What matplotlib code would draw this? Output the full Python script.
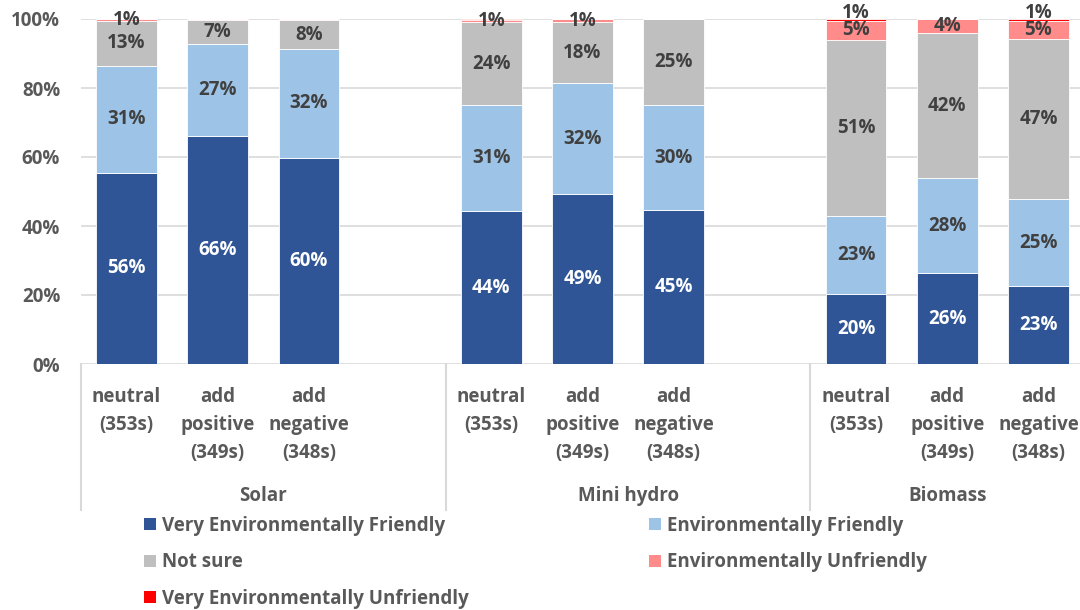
import matplotlib
matplotlib.use("Agg")
import matplotlib.pyplot as plt
import matplotlib.transforms as mtransforms
from matplotlib.patches import Patch

plt.rcParams['font.family'] = ['Open Sans', 'DejaVu Sans']
plt.rcParams['font.weight'] = 'bold'

groups = ["Solar", "Mini hydro", "Biomass"]
conditions = ["neutral\n(353s)", "add\npositive\n(349s)", "add\nnegative\n(348s)"]
series_names = ["Very Environmentally Friendly", "Environmentally Friendly", "Not sure",
                "Environmentally Unfriendly", "Very Environmentally Unfriendly"]
colors = ["#2F5597", "#9DC3E6", "#BFBFBF", "#FF8B8B", "#FF0000"]
label_colors = ["white", "#404040", "#404040", "#404040", "#404040"]

# order: Solar(neutral, pos, neg), Mini hydro(...), Biomass(...)
very_friendly = [55.5, 66.1, 59.7, 44.3, 49.3, 44.6, 20.3, 26.3, 22.6]
friendly = [31.0, 26.6, 31.7, 30.7, 32.1, 30.4, 22.6, 27.6, 25.1]
not_sure = [12.9, 7.0, 8.2, 24.1, 17.7, 25.0, 51.1, 41.9, 46.6]
unfriendly = [0.6, 0.3, 0.4, 0.6, 0.9, 0.0, 5.4, 4.2, 5.0]
very_unfriendly = [0.0, 0.0, 0.0, 0.3, 0.0, 0.0, 0.6, 0.0, 0.7]

series = [very_friendly, friendly, not_sure, unfriendly, very_unfriendly]

positions = []
for g in range(len(groups)):
    for c in range(len(conditions)):
        positions.append(g * 4 + c)

W, H = 1080, 610
FS = 13.5
fig = plt.figure(figsize=(W / 100, H / 100), dpi=100)
ax = fig.add_axes([81 / W, 1 - 364 / H, 1003 / W, 345 / H])

text_gray = "#595959"
grid_gray = "#D9D9D9"

bottoms = [0.0] * len(positions)
for s, vals in enumerate(series):
    ax.bar(positions, vals, bottom=bottoms, width=0.667, color=colors[s],
           edgecolor="white", linewidth=0.6, zorder=3)
    for i, v in enumerate(vals):
        lab = int(v + 0.5)
        if lab >= 1:
            tr = ax.transData
            if s == 4:
                tr = ax.transData + mtransforms.ScaledTranslation(0, 7 / 100, fig.dpi_scale_trans)
            ax.text(positions[i], bottoms[i] + v / 2, f"{lab}%", ha="center", va="center",
                    color=label_colors[s], fontsize=FS, fontweight="bold", zorder=4,
                    transform=tr)
    bottoms = [b + v for b, v in zip(bottoms, vals)]

ax.set_xlim(-0.5, 10.5)
ax.set_ylim(0, 100)
ax.set_yticks([0, 20, 40, 60, 80, 100])
ax.set_yticklabels([f"{t}%" for t in [0, 20, 40, 60, 80, 100]])
ax.yaxis.grid(True, color=grid_gray, linewidth=1.2, zorder=0)
ax.set_axisbelow(True)
for sp in ax.spines.values():
    sp.set_visible(False)
ax.tick_params(axis="y", length=0, pad=15, labelsize=FS, labelcolor=text_gray)

ax.set_xticks(positions)
ax.set_xticklabels(conditions * len(groups), linespacing=1.55, va="top")
ax.tick_params(axis="x", length=0, pad=16.5, labelsize=FS, labelcolor=text_gray)

trans = mtransforms.blended_transform_factory(ax.transData, ax.transAxes)
for xs in [-0.5, 3.5, 7.5]:
    ax.plot([xs, xs], [0, -146 / 345], transform=trans, color=grid_gray, linewidth=1.5,
            clip_on=False)
for g, name in enumerate(groups):
    x0 = g * 4 - 0.5
    x1 = min(g * 4 + 3.5, 10.5)
    ax.text((x0 + x1) / 2, -132 / 345, name, transform=trans, ha="center", va="center",
            fontsize=FS, fontweight="bold", color=text_gray)

order = [0, 2, 4, 1, 3]
handles = [Patch(facecolor=colors[i], edgecolor="none") for i in order]
labels = [series_names[i] for i in order]
leg = fig.legend(handles, labels, ncol=2, loc="upper left",
                 bbox_to_anchor=(129 / W, 1 - 501 / H), frameon=False,
                 fontsize=FS, handlelength=0.62, handleheight=0.62, handletextpad=0.35,
                 labelspacing=0.87, columnspacing=9.6, borderpad=0.3)
for t in leg.get_texts():
    t.set_color(text_gray)
    t.set_fontweight("bold")

fig.savefig("out.png", dpi=100)
